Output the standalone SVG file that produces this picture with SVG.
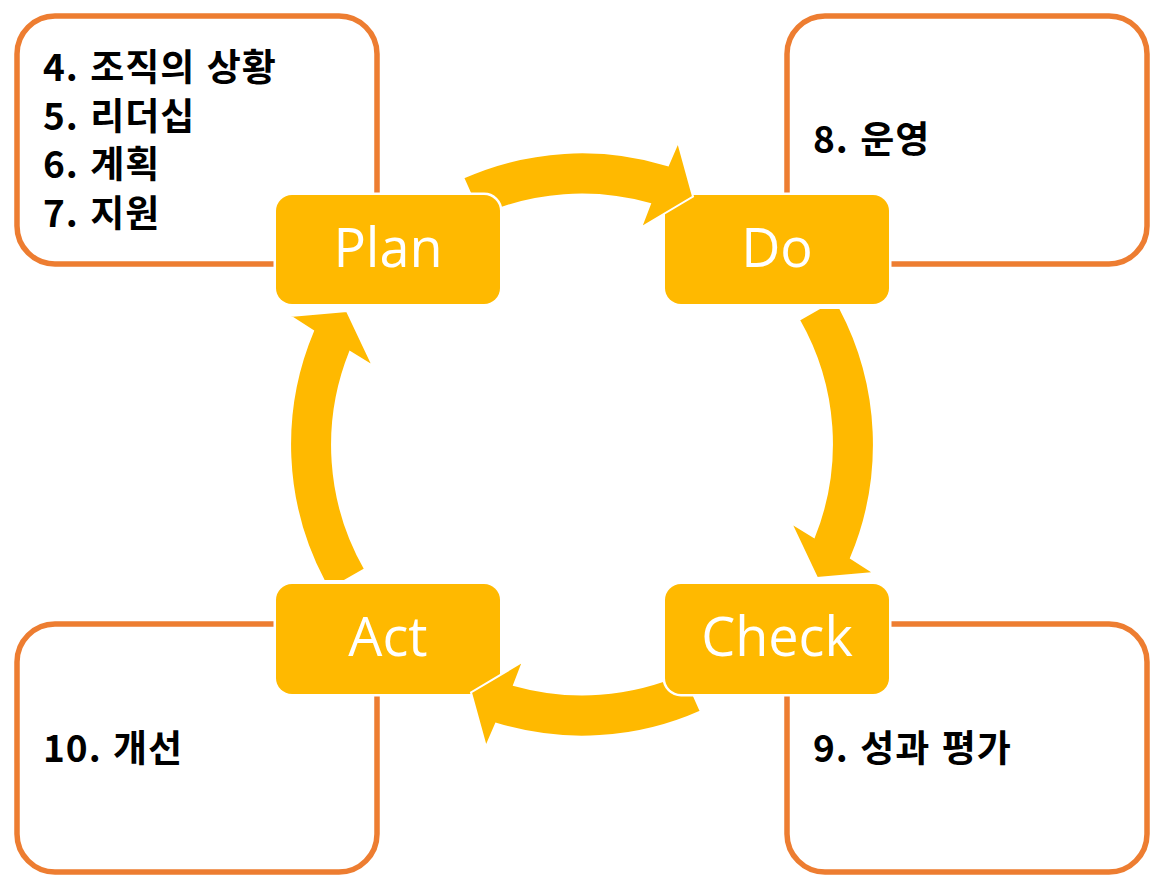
<svg xmlns="http://www.w3.org/2000/svg" width="1168" height="891" viewBox="0 0 1168 891">
<style>
.frame{fill:#FFFFFF;stroke:#ED7D31;stroke-width:5.5}
.step{fill:#FFB900;stroke:#FFFFFF;stroke-width:5;paint-order:stroke}
.arrow{fill:#FFB900;stroke:#FFFFFF;stroke-width:2;stroke-linejoin:miter}
.lbl{font-family:"Open Sans","Noto Sans",sans-serif;font-size:54px;fill:#FFFFFF;text-anchor:middle}
.note{font-family:"Noto Sans CJK KR","Noto Sans",sans-serif;font-size:37px;font-weight:bold;fill:#000000;letter-spacing:1px;word-spacing:2px}
</style>
<defs>
<path id="arcA" d="M 463.2 177.7 A 292 292 0 0 1 668 165.3 L 678 142 L 693 196.5 L 641 227.5 L 650 204 A 250 250 0 0 0 480.3 216.1 Z"/>
<path id="arcB" d="M 840 308 A 292 292 0 0 1 851 558 L 874 573 L 817 578 L 791 523 L 814 537 A 250 250 0 0 0 799 320 L 820 308 Z"/>
</defs>
<g id="frame-plan"><rect class="frame" x="17" y="16" width="360" height="248" rx="38"/>
<text class="note" x="43" y="81">4. 조직의 상황</text>
<text class="note" x="43" y="130">5. 리더십</text>
<text class="note" x="43" y="178">6. 계획</text>
<text class="note" x="43" y="227">7. 지원</text></g>
<g id="frame-do"><rect class="frame" x="787" y="16" width="360" height="248" rx="38"/>
<text class="note" x="813" y="153">8. 운영</text></g>
<g id="frame-act"><rect class="frame" x="17" y="624" width="360" height="248" rx="38"/>
<text class="note" x="43" y="762">10. 개선</text></g>
<g id="frame-check"><rect class="frame" x="787" y="624" width="360" height="248" rx="38"/>
<text class="note" x="813" y="762">9. 성과 평가</text></g>
<g id="node-do"><rect class="step" x="665" y="195" width="224" height="109" rx="16"/><text class="lbl" x="777" y="267">Do</text></g>
<g id="node-act"><rect class="step" x="276" y="584" width="224" height="110" rx="16"/><text class="lbl" x="388" y="656">Act</text></g>
<g id="connectors">
<use href="#arcA" class="arrow"/>
<use href="#arcB" class="arrow"/>
<use href="#arcA" class="arrow" transform="rotate(180 582 444.5)"/>
<use href="#arcB" class="arrow" transform="rotate(180 582 444.5)"/>
</g>
<g id="node-plan"><rect class="step" x="276" y="195" width="224" height="109" rx="16"/><text class="lbl" x="388" y="267">Plan</text></g>
<g id="node-check"><rect class="step" x="665" y="584" width="224" height="110" rx="16"/><text class="lbl" x="777" y="656">Check</text></g>
</svg>
